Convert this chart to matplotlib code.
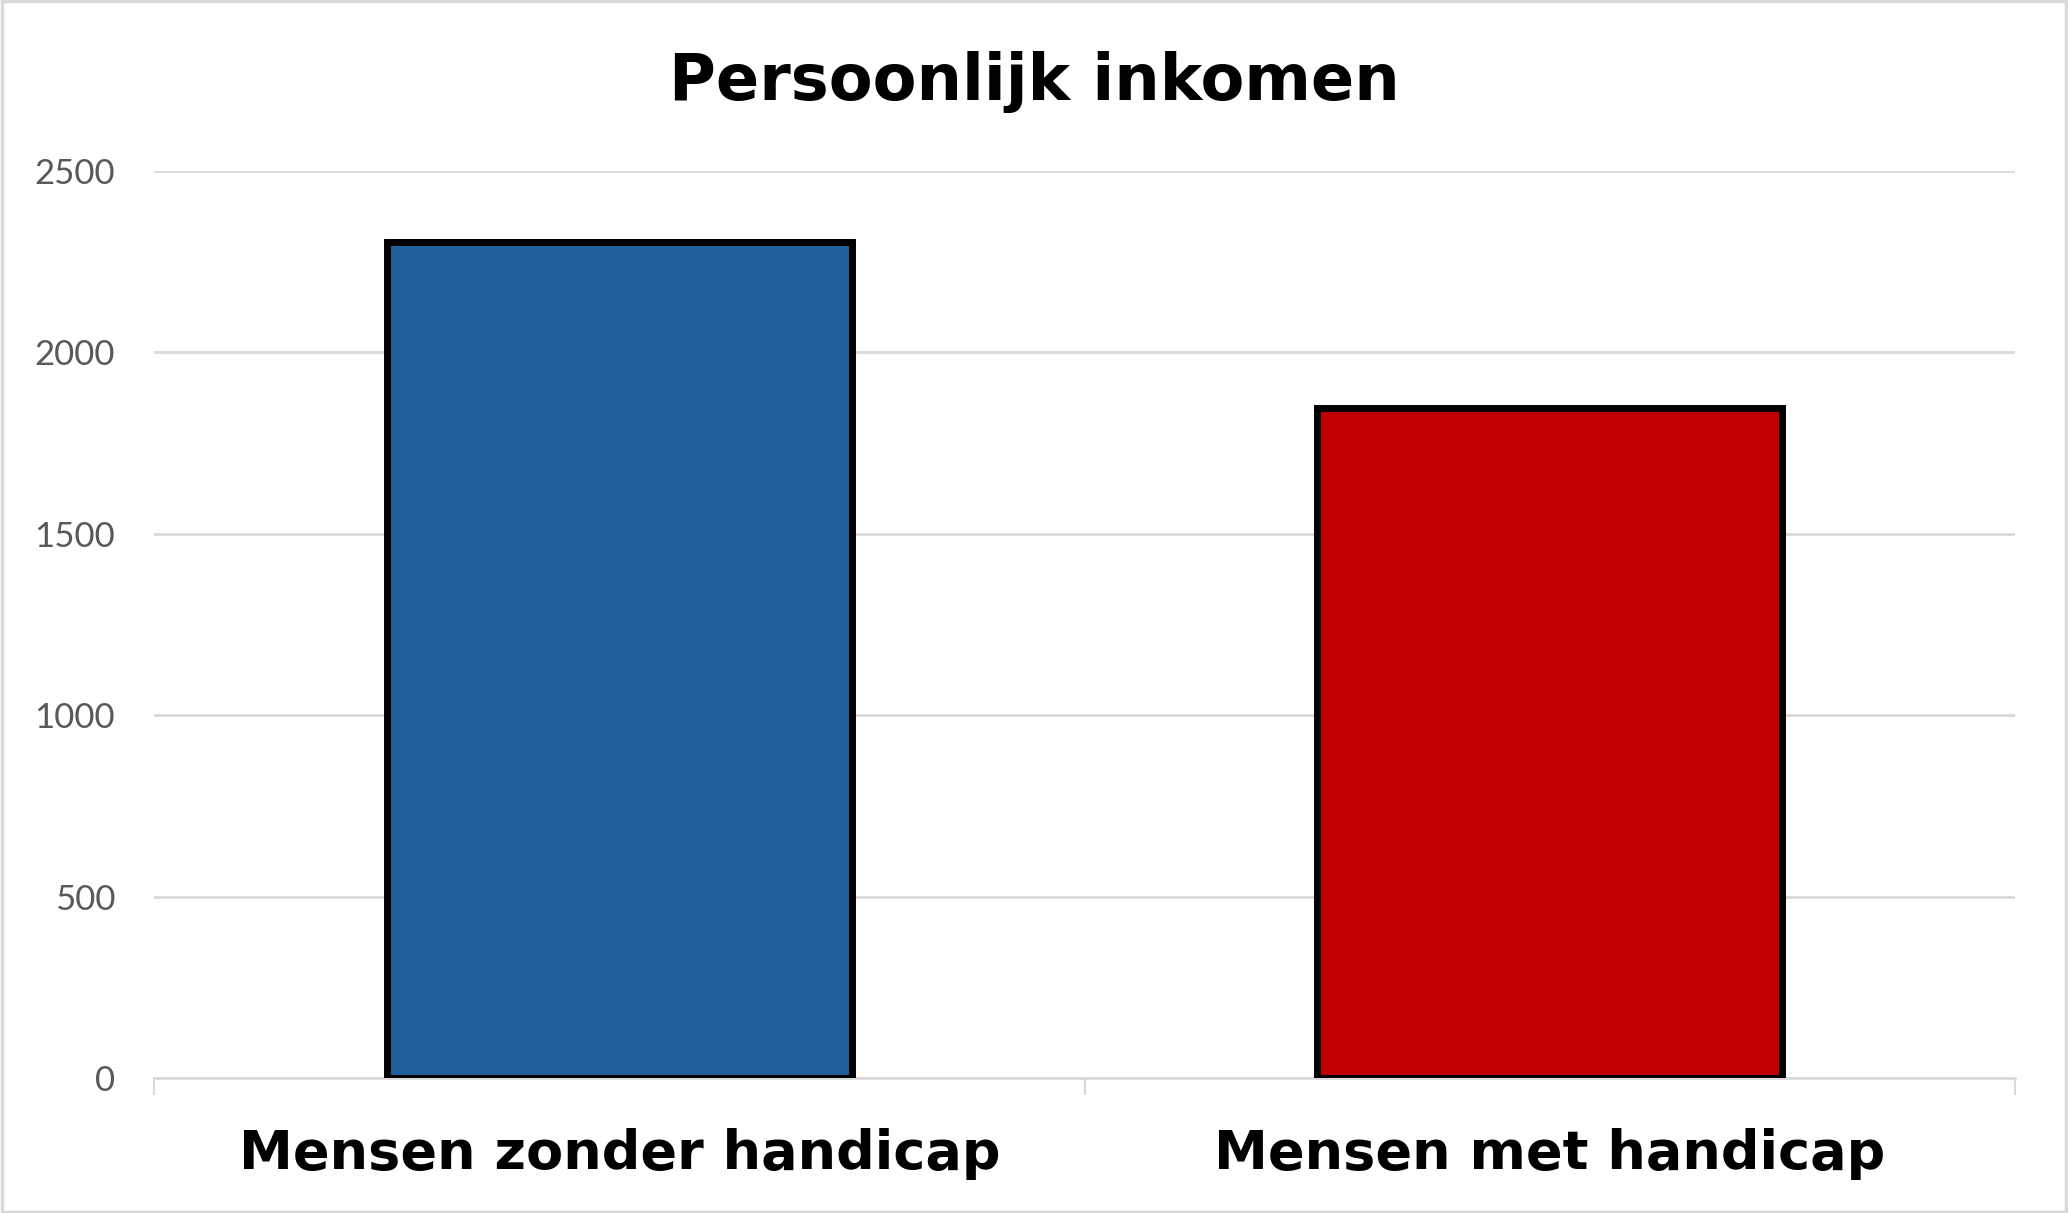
import matplotlib.pyplot as plt
from matplotlib.patches import Rectangle

# data
categories = ['Mensen zonder handicap', 'Mensen met handicap']
values = [2305, 1848]
bar_colors = ['#22609B', '#C00000']
yticks = [0, 500, 1000, 1500, 2000, 2500]

fig = plt.figure(figsize=(20.68, 12.13), dpi=100)
ax = fig.add_axes([0.0745, 0.1113, 0.8999, 0.7477])

x = list(range(len(categories)))
ax.bar(x, values, width=0.5, color=bar_colors, edgecolor='black', linewidth=5, zorder=3)

ax.set_xlim(-0.5, len(categories) - 0.5)
ax.set_ylim(0, 2500)
ax.set_yticks(yticks)
ax.set_yticklabels([str(v) for v in yticks], fontsize=25, color='#595959', family='Lato')
ax.yaxis.grid(True, color='#d9d9d9', linewidth=2, zorder=0)
ax.tick_params(axis='y', length=0, pad=28)

# category labels at centres, tick marks at borders
ax.set_xticks(x)
ax.set_xticklabels(categories, fontsize=39, fontweight='bold', family='DejaVu Sans')
ax.tick_params(axis='x', which='major', length=0, pad=36)
ax.set_xticks([-0.5, 0.5, 1.5], minor=True)
ax.tick_params(axis='x', which='minor', length=12, width=1.5, color='#d9d9d9')

for s in ['top', 'right', 'left']:
    ax.spines[s].set_visible(False)
ax.spines['bottom'].set_color('#d9d9d9')
ax.spines['bottom'].set_linewidth(2)

fig.text(0.5, 0.932, 'Persoonlijk inkomen', ha='center', va='center',
         fontsize=46, fontweight='bold', family='DejaVu Sans')

# outer border
fig.patches.append(Rectangle((0.001, 0.001), 0.998, 0.998, transform=fig.transFigure,
                             fill=False, edgecolor='#d9d9d9', linewidth=2.5))

fig.savefig('out.png', dpi=100)
